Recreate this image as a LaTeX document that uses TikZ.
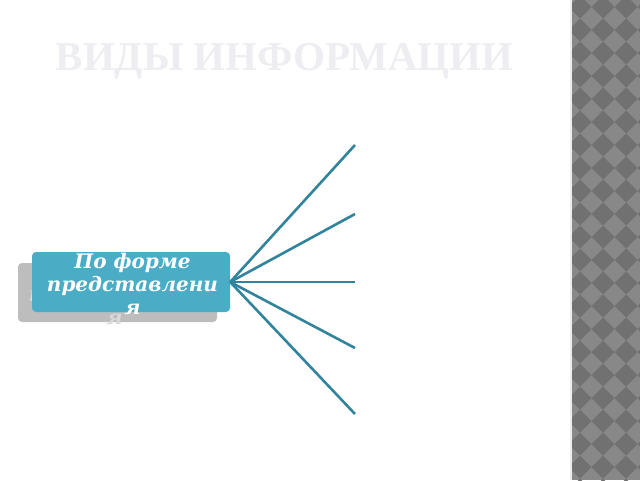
\documentclass[tikz,border=0pt]{standalone}
\usepackage{fontspec}
\setmainfont{Liberation Serif}
\newfontfamily\boxfont{DejaVu Serif}
\usepackage{tikz}

\definecolor{titlegray}{HTML}{EEEEF2}
\definecolor{boxteal}{HTML}{4BACC6}
\definecolor{lineteal}{HTML}{31849B}
\definecolor{shadegray}{HTML}{BDBDBD}
\definecolor{ghosttext}{HTML}{D9D9D9}
\definecolor{stripdark}{HTML}{717171}
\definecolor{striplight}{HTML}{888888}

\begin{document}
\begin{tikzpicture}[x=1pt,y=-1pt]
\tikzstyle{formbox}=[fill=boxteal,rounded corners=4pt,minimum width=198pt,minimum height=60pt,inner sep=0pt];
\tikzstyle{shadowbox}=[fill=shadegray,rounded corners=4pt,minimum width=199pt,minimum height=59pt,inner sep=0pt];
\tikzstyle{formtext}=[align=center,inner sep=0pt,font={\boxfont\bfseries\itshape\fontsize{20}{23}\selectfont}];
\tikzstyle{branch}=[draw=lineteal,line width=2.6pt];
\useasboundingbox (0,0) rectangle (640,480);
\fill[white] (0,0) rectangle (640,480);

% patterned strip on the right
\fill[striplight] (570,0) rectangle (640,480);
\begin{scope}
\clip (571.5,0) rectangle (640,480);
\foreach \i in {0,...,3}
	\foreach \j in {-1,...,21}
		\fill[stripdark] (568.5+23*\i,7+23*\j) -- ++(11.5,-11.5) -- ++(11.5,11.5) -- ++(-11.5,11.5) -- cycle;
\end{scope}
\fill[white!85!striplight] (570,0) rectangle (571.5,480);

% title
\node[font={\bfseries\fontsize{41}{44}\selectfont},text=titlegray] (title) at (284.5,61) {ВИДЫ ИНФОРМАЦИИ};

% boxes
\node[shadowbox] (shade) at (117.5,292.5) {};
\node[formtext,text=ghosttext] (shadetext) at (114.5,294) {По форме\\представлени\\я};
\node[formbox] (form) at (131,282) {};
\node[formtext,text=white] (formtext) at (132.5,284) {По форме\\представлени\\я};

% branches
\coordinate (t1) at (355,145);
\coordinate (t2) at (355,214);
\coordinate (t3) at (355,282);
\coordinate (t4) at (355,348);
\coordinate (t5) at (355,414);
\foreach \t in {t1,t2,t3,t4,t5}
	\draw[branch] (form.east) -- (\t);
\end{tikzpicture}
\end{document}
